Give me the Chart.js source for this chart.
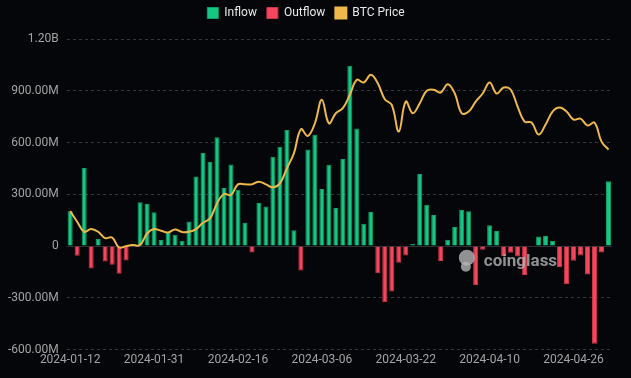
<!DOCTYPE html>
<html>
<head>
<meta charset="utf-8">
<script src="https://cdn.jsdelivr.net/npm/chart.js@4.4.1/dist/chart.umd.min.js"></script>
<style>
    html, body { margin: 0; padding: 0; background: #05060a; }
    #wrap { width: 631px; height: 378px; }
</style>
</head>
<body>
<div id="wrap"><canvas id="flow_chart"></canvas></div>
<script>
// trading days (US ETF sessions)
const days = [
    '2024-01-12','2024-01-16','2024-01-17','2024-01-18','2024-01-19','2024-01-22','2024-01-23','2024-01-24','2024-01-25','2024-01-26',
    '2024-01-29','2024-01-30','2024-01-31','2024-02-01','2024-02-02','2024-02-05','2024-02-06','2024-02-07','2024-02-08','2024-02-09',
    '2024-02-12','2024-02-13','2024-02-14','2024-02-15','2024-02-16','2024-02-20','2024-02-21','2024-02-22','2024-02-23','2024-02-26',
    '2024-02-27','2024-02-28','2024-02-29','2024-03-01','2024-03-04','2024-03-05','2024-03-06','2024-03-07','2024-03-08','2024-03-11',
    '2024-03-12','2024-03-13','2024-03-14','2024-03-15','2024-03-18','2024-03-19','2024-03-20','2024-03-21','2024-03-22','2024-03-25',
    '2024-03-26','2024-03-27','2024-03-28','2024-04-01','2024-04-02','2024-04-03','2024-04-04','2024-04-05','2024-04-08','2024-04-09',
    '2024-04-10','2024-04-11','2024-04-12','2024-04-15','2024-04-16','2024-04-17','2024-04-18','2024-04-19','2024-04-22','2024-04-23',
    '2024-04-24','2024-04-25','2024-04-26','2024-04-29','2024-04-30','2024-05-01','2024-05-02','2024-05-03'
];

// net flow per day, millions USD
const netFlow = [
    202, -56, 453, -130, 41, -89, -108, -161, -83, 12,
    254, 244, 196, 35, 81, 66, 31, 143, 403, 539,
    488, 631, 336, 473, 326, 133, -38, 250, 230, 517,
    575, 672, 91, -141, 560, 645, 330, 471, 221, 504,
    1045, 682, 130, 198, -157, -326, -263, -97, -54, 12,
    417, 240, 180, -87, 37, 110, 209, 202, -225, -21,
    120, 87, -58, -39, -60, -167, -4, 56, 58, 29,
    -122, -221, -85, -54, -165, -566, -37, 376
];

// BTC price, USD
const btcPrice = [
    46770, 44700, 42760, 43280, 42760, 41540, 41660, 39720, 39990, 40190,
    40190, 42430, 43280, 42950, 42630, 43210, 42700, 42760, 43280, 44500,
    45340, 48240, 50060, 49860, 51920, 51920, 51920, 52440, 51920, 51340,
    52110, 55010, 57920, 62560, 61280, 63720, 68250, 63720, 65660, 66630,
    69220, 72120, 71600, 73090, 71460, 68370, 67280, 62120, 67920, 65660,
    67590, 69990, 70190, 69660, 71270, 69530, 65660, 65990, 67920, 69470,
    71600, 69470, 70630, 70240, 66950, 64050, 63860, 61540, 63470, 65990,
    66760, 65990, 64440, 64630, 63280, 63860, 60180, 58630
];

const flowTicks = [-600, -300, 0, 300, 600, 900, 1200];
const labelEvery = 12;

const inflow = netFlow.map(v => v > 0 ? v : null);
const outflow = netFlow.map(v => v < 0 ? v : null);

const FONT = "Roboto, sans-serif";

function fmtFlow(v) {
    if (v === 0) return '0';
    if (Math.abs(v) >= 1000) return (v / 1000).toFixed(2) + 'B';
    return v.toFixed(2) + 'M';
}

// extra room under the legend
const legendGap = {
    id: 'legendGap',
    beforeInit(chart) {
        const origFit = chart.legend.fit;
        chart.legend.fit = function() {
            origFit.bind(chart.legend)();
            this.height += 10;
        };
    }
};

// solid zero line + coinglass mark
const extras = {
    id: 'extras',
    beforeDatasetsDraw(chart) {
        const { ctx, chartArea, scales } = chart;
        const y0 = Math.round(scales.y.getPixelForValue(0)) + 0.5;
        ctx.save();
        ctx.strokeStyle = '#2b2e33';
        ctx.lineWidth = 1;
        ctx.beginPath();
        ctx.moveTo(chartArea.left, y0);
        ctx.lineTo(chartArea.right, y0);
        ctx.stroke();
        ctx.restore();
    },
    afterDatasetsDraw(chart) {
        const { ctx, chartArea } = chart;
        const w = chartArea.right - chartArea.left;
        const h = chartArea.bottom - chartArea.top;
        const tx = chartArea.left + w * 0.765;
        const ty = chartArea.top + h * 0.717;
        ctx.save();
        ctx.globalAlpha = 0.8;
        ctx.fillStyle = '#b4b4b4';
        // mascot blob
        ctx.beginPath();
        ctx.arc(tx - 17, ty - 4, 8, 0, Math.PI * 2);
        ctx.fill();
        ctx.beginPath();
        ctx.arc(tx - 18, ty + 5, 5, 0, Math.PI * 2);
        ctx.fill();
        ctx.font = "bold 17px Roboto, sans-serif";
        ctx.textBaseline = 'middle';
        ctx.fillText('coinglass', tx, ty);
        ctx.restore();
    }
};

const ctx = document.getElementById('flow_chart').getContext('2d');
const flowChart = new Chart(ctx, {
    type: 'bar',
    data: {
        labels: days,
        datasets: [
            {
                label: 'Inflow',
                data: inflow,
                backgroundColor: '#16c784',
                borderColor: '#0f9e68',
                borderWidth: 1,
                yAxisID: 'y',
                order: 1
            },
            {
                label: 'Outflow',
                data: outflow,
                backgroundColor: '#f6465d',
                borderColor: '#c93549',
                borderWidth: 1,
                yAxisID: 'y',
                order: 1
            },
            {
                label: 'BTC Price',
                type: 'line',
                data: btcPrice,
                borderColor: '#eeb94a',
                backgroundColor: '#eeb94a',
                borderWidth: 2,
                pointRadius: 0,
                tension: 0.4,
                yAxisID: 'y1',
                order: 0
            }
        ]
    },
    options: {
        responsive: true,
        maintainAspectRatio: false,
        animation: false,
        layout: {
            padding: { left: 0, right: 19, top: -3, bottom: 8 }
        },
        plugins: {
            legend: {
                position: 'top',
                labels: {
                    color: '#e8e8e8',
                    boxWidth: 11,
                    boxHeight: 11,
                    padding: 10,
                    font: { family: FONT, size: 12 },
                    sort: (a, b) => a.datasetIndex - b.datasetIndex
                }
            },
            tooltip: { enabled: false }
        },
        scales: {
            x: {
                stacked: true,
                grid: { display: false, drawTicks: false },
                border: { display: false },
                ticks: {
                    color: '#a3a3a3',
                    font: { family: FONT, size: 12 },
                    maxRotation: 0,
                    autoSkip: false,
                    padding: 3,
                    callback: function(value, index) {
                        return index % labelEvery === 0 ? days[index] : null;
                    }
                }
            },
            y: {
                stacked: true,
                min: flowTicks[0],
                max: flowTicks[flowTicks.length - 1],
                afterBuildTicks: function(axis) {
                    axis.ticks = flowTicks.map(v => ({ value: v }));
                },
                grid: {
                    color: '#34373c',
                    drawTicks: false
                },
                border: { display: false, dash: [3, 3] },
                ticks: {
                    color: '#a3a3a3',
                    padding: 8,
                    font: { family: FONT, size: 12 },
                    callback: function(value) {
                        return fmtFlow(value);
                    }
                }
            },
            y1: {
                display: false,
                min: 20000,
                max: 80000
            }
        }
    },
    plugins: [legendGap, extras]
});
</script>
</body>
</html>
